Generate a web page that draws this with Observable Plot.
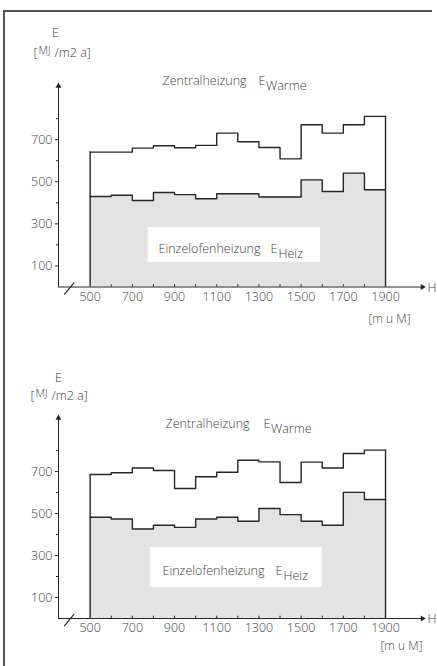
<!DOCTYPE html>
<html>
<head>
<meta charset="utf-8">
<script src="https://cdn.jsdelivr.net/npm/d3@7"></script>
<script src="https://cdn.jsdelivr.net/npm/@observablehq/plot@0.6"></script>
<style>
  html, body { margin: 0; padding: 0; background: #fff; }
  #page { position: relative; width: 437px; height: 666px; overflow: hidden; }
  #frame { position: absolute; left: 3px; top: 10px; width: 427px; height: 700px;
           border-left: 2px solid #555; border-top: 2px solid #555; }
  .panel { position: absolute; left: 0; }
</style>
</head>
<body>
<div id="page">
  <div id="frame"></div>
  <div class="panel" id="p1" style="top:0px"></div>
  <div class="panel" id="p2" style="top:332px"></div>
</div>
<script>
// Height bands (m ü. M.), start of each 100 m class
const heightStart = [500, 600, 700, 800, 900, 1000, 1100, 1200, 1300, 1400, 1500, 1600, 1700, 1800];
const heightEnd = 1900;

// Upper chart
const warmeTop = [641, 641, 660, 671, 662, 673, 731, 690, 663, 609, 771, 731, 771, 811];
const heizTop  = [430, 436, 411, 449, 439, 419, 443, 443, 428, 428, 509, 454, 541, 462];

// Lower chart
const warmeBottom = [686, 694, 717, 705, 619, 675, 697, 754, 746, 648, 745, 717, 786, 802];
const heizBottom  = [482, 474, 426, 444, 434, 474, 482, 463, 524, 495, 463, 444, 601, 567];

// Axis ticks
const yLabelTicks = [100, 300, 500, 700];
const yMinorTicks = [200, 400, 600, 800];
const xLabelTicks = [500, 700, 900, 1100, 1300, 1500, 1700, 1900];
const xMinorTicks = [600, 700, 800, 900, 1000, 1100, 1200, 1300, 1400, 1500, 1600, 1700, 1800];

const FONT = "'Open Sans', 'DejaVu Sans', sans-serif";
const INK = "#262626";
const TXT = "#404040";
const FILL = "#e3e3e3";

const ML = 58, MT = 83;

function txt(label, px, py, opts = {}) {
  return Plot.text([label], {
    text: d => d, frameAnchor: "top-left", dx: px - ML, dy: py - MT,
    textAnchor: opts.anchor || "start", lineAnchor: "middle",
    fontSize: opts.size || 12.5, fontWeight: 300, fill: TXT
  });
}

function panel(warme, heiz, L) {
  const stepW = heightStart.map((h, i) => ({x: h, y: warme[i]})).concat([{x: heightEnd, y: warme[warme.length - 1]}]);
  const stepH = heightStart.map((h, i) => ({x: h, y: heiz[i]})).concat([{x: heightEnd, y: heiz[heiz.length - 1]}]);
  const edges = [{x: heightStart[0], y: warme[0]}, {x: heightEnd, y: warme[warme.length - 1]}];
  return Plot.plot({
    width: 437, height: 332,
    marginLeft: ML, marginRight: 14, marginTop: MT, marginBottom: 332 - L.base,
    x: {domain: [350, 2080]},
    y: {domain: [0, 967]},
    style: {fontFamily: FONT, fontSize: "12.5px", color: TXT, background: "transparent"},
    marks: [
      Plot.areaY(stepH, {x: "x", y: "y", curve: "step-after", fill: FILL}),
      Plot.rect([L.box], {x1: "x1", x2: "x2", y1: "y1", y2: "y2", fill: "white"}),
      Plot.line(stepW, {x: "x", y: "y", curve: "step-after", stroke: INK, strokeWidth: 1.4}),
      Plot.line(stepH, {x: "x", y: "y", curve: "step-after", stroke: INK, strokeWidth: 1.4}),
      Plot.ruleX(edges, {x: "x", y1: 0, y2: "y", stroke: INK, strokeWidth: 1.4}),
      // axes
      Plot.ruleY([0], {x1: 350, x2: 2075, stroke: INK, strokeWidth: 1}),
      Plot.ruleX([350], {y1: 0, y2: 955, stroke: INK, strokeWidth: 1}),
      Plot.dot([{x: 2075, y: 0}], {x: "x", y: "y", symbol: "triangle", r: 2.2, rotate: 90, fill: INK, stroke: "none"}),
      Plot.dot([{x: 350, y: 955}], {x: "x", y: "y", symbol: "triangle", r: 2.2, fill: INK, stroke: "none"}),
      Plot.link([0], {x1: 377, y1: -36, x2: 424, y2: 21, stroke: INK, strokeWidth: 1.2}),
      Plot.ruleX(xMinorTicks, {x: d => d, y1: 0, y2: 11, stroke: INK, strokeWidth: 1}),
      Plot.axisY({ticks: yLabelTicks, tickSize: 3, tickPadding: 3, label: null, stroke: INK, fontWeight: 300}),
      Plot.axisY({ticks: yMinorTicks, tickSize: 2, text: null, label: null, stroke: INK}),
      Plot.axisX({ticks: xLabelTicks, tickSize: 0, tickPadding: L.xPad, label: null, tickFormat: d => String(d), fontWeight: 300}),
      // labels
      txt("E", L.E[0], L.E[1], {anchor: "middle"}),
      txt("[", L.unit[0], L.unit[1]),
      txt("MJ", L.unit[0] + 5, L.unit[1] - 2, {size: 11}),
      txt("/m2 a]", L.unit[0] + 21, L.unit[1]),
      txt("Zentralheizung", L.zent[0], L.zent[1]),
      txt("E", L.zentE[0], L.zent[1]),
      txt("Warme", L.zentE[0] + 7.5, L.zent[1] + 5),
      txt("Einzelofenheizung", L.einz[0], L.einz[1]),
      txt("E", L.einzE[0], L.einz[1]),
      txt("Heiz", L.einzE[0] + 8, L.einz[1] + 5),
      txt("H", L.H[0], L.H[1]),
      txt("[m u M]", L.mum[0], L.mum[1], {anchor: "middle", size: 12})
    ]
  });
}

const layoutTop = {
  base: 286.5, xPad: 5,
  box: {x1: 775, x2: 1592, y1: 117, y2: 283},
  E: [55, 32], unit: [33, 52], zent: [162, 80], zentE: [258, 0],
  einz: [158, 248], einzE: [270, 0], H: [427, 287], mum: [389, 319]
};
const layoutBottom = {
  base: 286, xPad: 5,
  box: {x1: 785, x2: 1601, y1: 148, y2: 338},
  E: [58, 45], unit: [30, 63], zent: [165, 91], zentE: [263, 0],
  einz: [162, 238], einzE: [275, 0], H: [427, 286], mum: [401, 314]
};

document.getElementById("p1").appendChild(panel(warmeTop, heizTop, layoutTop));
document.getElementById("p2").appendChild(panel(warmeBottom, heizBottom, layoutBottom));
</script>
</body>
</html>
